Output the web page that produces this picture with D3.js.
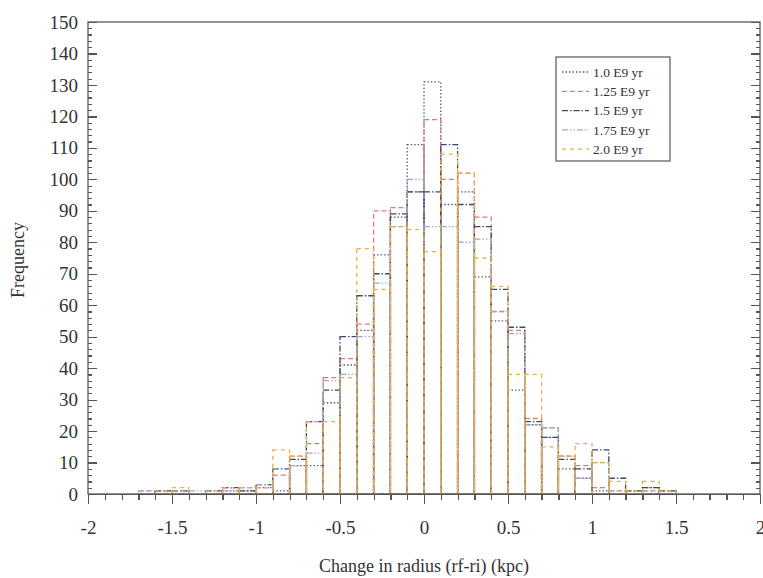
<!DOCTYPE html>
<html>

<head>
  <script src="https://d3js.org/d3.v7.min.js"></script>
  <style>
    body {
      margin: 0;
      background: #fff;
    }
    text {
      font-family: "Liberation Serif", "DejaVu Serif", serif;
      fill: #333;
    }
    .axis path,
    .axis line {
      stroke: #555;
      stroke-width: 1.2px;
      shape-rendering: crispEdges;
    }
    .bar {
      fill: none;
      stroke-width: 1.3px;
    }
  </style>
</head>

<body>
  <svg width="763" height="578"></svg>
  <script>
    // bin left edges, bin width 0.1 kpc
    var binStarts = [-1.7, -1.6, -1.5, -1.4, -1.3, -1.2, -1.1, -1.0, -0.9, -0.8, -0.7, -0.6, -0.5, -0.4, -0.3, -0.2,
      -0.1, 0.0, 0.1, 0.2, 0.3, 0.4, 0.5, 0.6, 0.7, 0.8, 0.9, 1.0, 1.1, 1.2, 1.3, 1.4];
    var binWidth = 0.1;

    var seriesNames = ["1.0 E9 yr", "1.25 E9 yr", "1.5 E9 yr", "1.75 E9 yr", "2.0 E9 yr"];

    var freq10 = [0, 0, 0, 0, 0, 1, 1, 2, 1, 9, 9, 29, 41, 52, 76, 88, 111, 131, 92, 96, 69, 55, 33, 22, 18, 8, 5, 1, 0, 0, 2, 0];
    var freq125 = [1, 1, 1, 0, 0, 2, 2, 2, 6, 12, 16, 37, 43, 54, 90, 91, 96, 119, 100, 102, 88, 58, 52, 24, 21, 12, 9, 2, 1, 1, 1, 1];
    var freq15 = [0, 1, 1, 0, 1, 2, 1, 3, 8, 11, 23, 33, 50, 63, 70, 89, 96, 96, 111, 92, 85, 65, 53, 23, 18, 11, 8, 14, 5, 1, 2, 1];
    var freq175 = [1, 0, 1, 1, 0, 1, 2, 3, 8, 9, 13, 36, 38, 50, 67, 85, 100, 85, 85, 80, 81, 58, 51, 22, 21, 12, 5, 10, 1, 0, 1, 0];
    var freq20 = [0, 1, 2, 0, 1, 2, 2, 2, 14, 12, 23, 23, 37, 78, 65, 85, 84, 77, 108, 102, 75, 66, 38, 38, 15, 12, 16, 10, 4, 1, 4, 1];

    var seriesValues = [freq10, freq125, freq15, freq175, freq20];
    var seriesColors = ["#4e5d7e", "#e07a7a", "#3e4868", "#9cabc4", "#f2ad3c"];
    var seriesDash = ["1.5,2", "5,3", "6,2,1.5,2", "6,2,1.5,2,1.5,2", "4,4"];

    var yTicks = d3.range(0, 151, 10);
    var xTicks = [-2, -1.5, -1, -0.5, 0, 0.5, 1, 1.5, 2];

    var svg = d3.select("svg"),
      margin = {
        top: 22,
        right: 3,
        bottom: 84,
        left: 88
      },
      width = +svg.attr("width") - margin.left - margin.right,
      height = +svg.attr("height") - margin.top - margin.bottom;

    var x = d3.scaleLinear().domain([-2, 2]).range([0, width]),
      y = d3.scaleLinear().domain([0, 150]).range([height, 0]);

    var g = svg.append("g")
      .attr("transform", "translate(" + margin.left + "," + margin.top + ")");

    // bars, drawn as outlines
    seriesValues.forEach(function(vals, i) {
      g.append("g")
        .selectAll("rect")
        .data(vals.map(function(v, j) {
          return {
            x0: binStarts[j],
            v: v
          };
        }).filter(function(d) {
          return d.v > 0;
        }))
        .enter().append("rect")
        .attr("class", "bar")
        .attr("x", function(d) {
          return x(d.x0);
        })
        .attr("y", function(d) {
          return y(d.v);
        })
        .attr("width", function(d) {
          return x(d.x0 + binWidth) - x(d.x0);
        })
        .attr("height", function(d) {
          return y(0) - y(d.v);
        })
        .attr("stroke", seriesColors[i])
        .attr("stroke-dasharray", seriesDash[i]);
    });

    // frame
    g.append("rect")
      .attr("width", width)
      .attr("height", height)
      .attr("fill", "none")
      .attr("stroke", "#666")
      .attr("stroke-width", 1.4);

    // y axis left, ticks inward
    g.append("g")
      .attr("class", "axis")
      .call(d3.axisLeft(y).tickValues(d3.range(0, 151, 2)).tickSize(-4).tickFormat(""))
      .call(function(s) {
        s.select(".domain").remove();
      });
    g.append("g")
      .attr("class", "axis")
      .call(d3.axisLeft(y).tickValues(yTicks).tickSize(-9).tickPadding(10).tickFormat(d3.format("d")))
      .call(function(s) {
        s.select(".domain").remove();
        s.selectAll("text").attr("font-size", 19).attr("fill", "#333");
      });

    // right side ticks inward
    g.append("g")
      .attr("class", "axis")
      .attr("transform", "translate(" + width + ",0)")
      .call(d3.axisRight(y).tickValues(d3.range(0, 151, 2)).tickSize(-4).tickFormat(""))
      .call(function(s) {
        s.select(".domain").remove();
      });
    g.append("g")
      .attr("class", "axis")
      .attr("transform", "translate(" + width + ",0)")
      .call(d3.axisRight(y).tickValues(yTicks).tickSize(-9).tickFormat(""))
      .call(function(s) {
        s.select(".domain").remove();
      });

    // x axis, ticks hanging down
    g.append("g")
      .attr("class", "axis")
      .attr("transform", "translate(0," + height + ")")
      .call(d3.axisBottom(x).tickValues(d3.range(-20, 21).map(function(k) {
        return k / 10;
      })).tickSize(6).tickFormat(""))
      .call(function(s) {
        s.select(".domain").remove();
      });
    g.append("g")
      .attr("class", "axis")
      .attr("transform", "translate(0," + height + ")")
      .call(d3.axisBottom(x).tickValues(xTicks).tickSize(10).tickPadding(17).tickFormat(function(d) {
        return String(d);
      }))
      .call(function(s) {
        s.selectAll("text").attr("font-size", 19).attr("fill", "#333");
      });

    // axis titles
    svg.append("text")
      .attr("x", margin.left + x(0))
      .attr("y", 572)
      .attr("text-anchor", "middle")
      .attr("font-size", 18)
      .text("Change in radius (rf-ri) (kpc)");

    svg.append("text")
      .attr("transform", "translate(24," + (margin.top + height / 2 + 2) + ") rotate(-90)")
      .attr("text-anchor", "middle")
      .attr("font-size", 18)
      .text("Frequency");

    // legend
    var legend = svg.append("g")
      .attr("transform", "translate(556,57)");

    legend.append("rect")
      .attr("width", 114)
      .attr("height", 104)
      .attr("fill", "#fff")
      .attr("stroke", "#555")
      .attr("stroke-width", 1.2);

    seriesNames.forEach(function(name, i) {
      var row = legend.append("g")
        .attr("transform", "translate(0," + (15 + i * 19.3) + ")");
      row.append("line")
        .attr("x1", 6)
        .attr("x2", 33)
        .attr("stroke", seriesColors[i])
        .attr("stroke-width", 1.3)
        .attr("stroke-dasharray", seriesDash[i]);
      row.append("text")
        .attr("x", 37)
        .attr("dy", "0.35em")
        .attr("font-size", 13.5)
        .attr("fill", "#222")
        .text(name);
    });
  </script>
</body>

</html>
